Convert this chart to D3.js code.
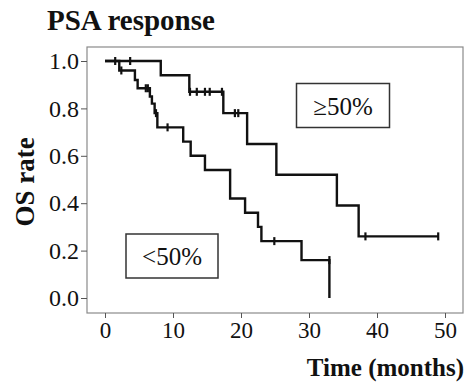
<!DOCTYPE html>
<html>
<head>
<meta charset="utf-8">
<script src="https://cdn.jsdelivr.net/npm/d3@7"></script>
<style>
  body { margin: 0; background: #fff; }
  text { font-family: "Liberation Serif", "Times New Roman", serif; fill: #111; }
</style>
</head>
<body>
<svg id="chart" width="466" height="382"></svg>
<script>
// Kaplan-Meier steps: [time, survival after the drop]
var hiSteps = [[0, 1], [8.2, 0.94], [12.4, 0.87], [17.4, 0.78], [20.9, 0.65], [25.2, 0.52], [34.1, 0.39], [37.3, 0.26]];
var hiEnd = 49;
var hiCensor = [1.5, 3.7, 12.5, 13.5, 14.7, 15.4, 17.2, 19.1, 19.6, 38.3, 49];

var loSteps = [[0, 1], [2.1, 0.96], [4.4, 0.92], [4.8, 0.885], [6.6, 0.85], [6.9, 0.82], [7.3, 0.78], [7.7, 0.72],
  [11.5, 0.66], [12.6, 0.60], [14.7, 0.54], [18.4, 0.42], [20.6, 0.36], [22.5, 0.30], [23.0, 0.24], [28.9, 0.16], [33.0, 0]];
var loEnd = 33;
var loCensor = [2.4, 6.0, 6.3, 7.5, 9.2, 24.9, 33.0];

var xTicks = [0, 10, 20, 30, 40, 50];
var yTicks = [0, 0.2, 0.4, 0.6, 0.8, 1.0];

var svg = d3.select('#chart');
var frame = {left: 87, right: 463, top: 47, bottom: 313};

// x: 0 -> 105px, 50 -> 445px ; y: 1 -> 61px, 0 -> 298px
var x = d3.scaleLinear().domain([0, 50]).range([105, 445]);
var y = d3.scaleLinear().domain([0, 1]).range([298, 61]);

// plot frame
svg.append('rect')
  .attr('x', frame.left).attr('y', frame.top)
  .attr('width', frame.right - frame.left).attr('height', frame.bottom - frame.top)
  .attr('fill', 'none').attr('stroke', '#8a8a8a').attr('stroke-width', 1.2);

// axes
var xAxis = d3.axisBottom(x).tickValues(xTicks).tickFormat(d3.format('d')).tickSize(5).tickPadding(4);
var gx = svg.append('g').attr('transform', 'translate(0,' + frame.bottom + ')').call(xAxis);
gx.select('.domain').remove();
gx.selectAll('line').attr('stroke', '#555');
gx.selectAll('text')
  .style('font-family', '"Liberation Serif", serif').style('font-size', '23px').style('fill', '#111');

var yAxis = d3.axisLeft(y).tickValues(yTicks).tickFormat(d3.format('.1f')).tickSize(6).tickPadding(2);
var gy = svg.append('g').attr('transform', 'translate(' + frame.left + ',0)').call(yAxis);
gy.select('.domain').remove();
gy.selectAll('line').attr('stroke', '#555');
gy.selectAll('text')
  .style('font-family', '"Liberation Serif", serif').style('font-size', '24px').style('fill', '#111');

// step curves
function stepPath(steps, end){
  var pts = [];
  steps.forEach(function(s, i){
    if(i > 0) pts.push([s[0], steps[i-1][1]]);
    pts.push(s);
  });
  var last = steps[steps.length - 1];
  if(end > last[0]) pts.push([end, last[1]]);
  return d3.line().x(function(d){ return x(d[0]); }).y(function(d){ return y(d[1]); })(pts);
}

function survAt(steps, t){
  var s = 1;
  steps.forEach(function(d){ if(d[0] <= t) s = d[1]; });
  return s;
}

function drawCurve(steps, end, censor){
  svg.append('path')
    .attr('d', stepPath(steps, end))
    .attr('fill', 'none').attr('stroke', '#111').attr('stroke-width', 2.4);
  svg.selectAll(null).data(censor).enter().append('line')
    .attr('x1', function(d){ return x(d); }).attr('x2', function(d){ return x(d); })
    .attr('y1', function(d){ var t = d === 33 ? 32.99 : d; return y(survAt(steps, t)) - 4; })
    .attr('y2', function(d){ var t = d === 33 ? 32.99 : d; return y(survAt(steps, t)) + 4; })
    .attr('stroke', '#111').attr('stroke-width', 2.2);
}

drawCurve(hiSteps, hiEnd, hiCensor);
drawCurve(loSteps, loEnd, loCensor);

// group labels in boxes
function boxLabel(cx, cy, w, h, label){
  svg.append('rect')
    .attr('x', cx - w / 2).attr('y', cy - h / 2).attr('width', w).attr('height', h)
    .attr('fill', '#fff').attr('stroke', '#333').attr('stroke-width', 1.5);
  svg.append('text')
    .attr('x', cx).attr('y', cy + 9)
    .attr('text-anchor', 'middle').style('font-size', '25px')
    .text(label);
}
boxLabel(343, 105.5, 93, 44, '\u226550%');
boxLabel(172, 256, 92, 44, '<50%');

// titles
svg.append('text').attr('x', 47).attr('y', 30)
  .style('font-size', '29px').style('font-weight', 'bold')
  .text('PSA response');

svg.append('text').attr('x', 464).attr('y', 376)
  .attr('text-anchor', 'end').style('font-size', '25px').style('font-weight', 'bold')
  .text('Time (months)');

svg.append('text')
  .attr('transform', 'translate(34,182) rotate(-90)')
  .attr('text-anchor', 'middle').style('font-size', '27px').style('font-weight', 'bold')
  .text('OS rate');
</script>
</body>
</html>
